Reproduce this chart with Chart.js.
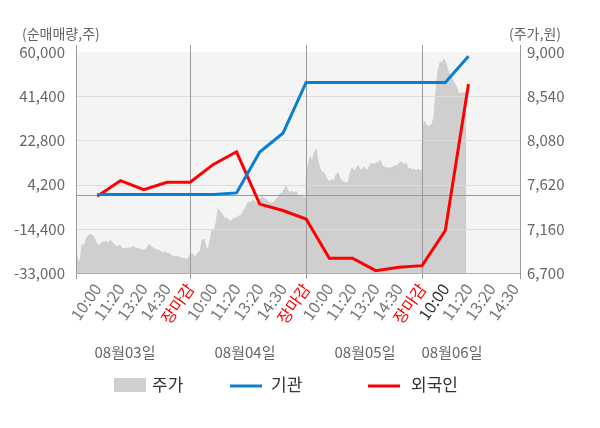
<!DOCTYPE html>
<html><head><meta charset="utf-8">
<script src="https://cdn.jsdelivr.net/npm/chart.js@4.4.0/dist/chart.umd.min.js"></script>
<style>html,body{margin:0;padding:0;background:#fff;}#wrap{width:600px;height:428px;position:relative;}</style>
</head><body><div id="wrap"><canvas id="c"></canvas></div>
<script>
// ---- data ----
const timeLabels = ['10:00','11:20','13:20','14:30','장마감','10:00','11:20','13:20','14:30','장마감','10:00','11:20','13:20','14:30','장마감','10:00','11:20','13:20','14:30'];
const dateLabels = ['08월03일','08월04일','08월05일','08월06일'];
const seriesNames = ['주가','기관','외국인'];
const institution = [0,0,0,0,0,0,700,17900,25800,47200,47200,47200,47200,47200,47200,47200,58200];
const foreign = [-700,5900,2100,5200,5200,12700,18000,-4000,-6700,-10300,-26800,-26800,-32000,-30600,-29900,-15100,46500];
const priceDay1 = [7010,6923,6819,6836,6999,6972,7055,7090,7100,7090,7073,7020,6987,6999,7020,7020,7030,7010,7040,7020,6999,6972,6980,6990,6955,6955,6955,6962,6955,6972,6972,6955,6955,6945,6938,6938,6945,6990,6990,6965,6955,6945,6938,6931,6910,6920,6910,6903,6896,6875,6868,6875,6868,6861,6850,6847,6847,6847];
const priceDay2 = [6889,6899,6871,6878,6913,6923,7045,7052,6968,6940,7045,7150,7143,7226,7369,7341,7317,7272,7272,7261,7237,7254,7272,7272,7289,7296,7317,7359,7394,7435,7435,7446,7456,7411,7463,7470,7498,7470,7463,7446,7428,7428,7435,7470,7491,7526,7533,7568,7603,7550,7540,7550,7533,7550,7505,7491,7498,7481,7491];
const priceDay3 = [7707,7811,7916,7853,7951,7986,7853,7784,7749,7742,7700,7655,7655,7672,7655,7724,7742,7679,7655,7644,7638,7638,7742,7794,7759,7784,7819,7770,7777,7804,7770,7784,7829,7840,7829,7846,7846,7874,7819,7804,7794,7794,7794,7794,7819,7811,7832,7846,7853,7825,7840,7784,7794,7770,7784,7759,7784,7770,7759];
const priceDay4 = [8021,8282,8247,8223,8237,8247,8334,8613,8805,8892,8892,8927,8875,8805,8760,8718,8683,8641,8586,8561,8579,8572,8586];
const leftTicks = [60000,41400,22800,4200,-14400,-33000];
const rightTicks = [9000,8540,8080,7620,7160,6700];

// ---- build points ----
const priceDays = [priceDay1, priceDay2, priceDay3, priceDay4];
const SLOTS_PER_DAY = 5, SAMPLES_STEP = 5/58;
const pricePts = [];
priceDays.forEach((arr, d) => arr.forEach((v, j) => pricePts.push({x: d*SLOTS_PER_DAY + j*SAMPLES_STEP, y: v})));
const instPts = institution.map((v,i)=>({x:i+1,y:v}));
const forPts = foreign.map((v,i)=>({x:i+1,y:v}));

const FONT = "'Noto Sans CJK KR','Noto Sans',sans-serif";
Chart.defaults.font.family = FONT;
const fmt = v => v.toLocaleString('en-US');
const currentTick = 15;

const deco = {
  id: 'deco',
  beforeDatasetsDraw(chart){
    const {ctx, chartArea:a} = chart;
    ctx.save(); ctx.fillStyle = '#f4f4f4';
    ctx.fillRect(a.left, a.top, a.right-a.left, a.bottom-a.top);
    ctx.restore();
  },
  afterDatasetDraw(chart, args){
    if (args.index !== 0) return;
    const {ctx, chartArea:a, scales} = chart;
    const y = scales.y, x = scales.x;
    ctx.save();
    ctx.lineWidth = 1;
    ctx.strokeStyle = '#dcdcdc';
    leftTicks.slice(1, -1).forEach(v => {
      const py = Math.round(y.getPixelForValue(v)) + 0.5;
      ctx.beginPath(); ctx.moveTo(a.left, py); ctx.lineTo(a.right, py); ctx.stroke();
    });
    ctx.strokeStyle = '#9a9a9a';
    const zy = Math.round(y.getPixelForValue(0)) + 0.5;
    ctx.beginPath(); ctx.moveTo(a.left, zy); ctx.lineTo(a.right, zy); ctx.stroke();
    const vx = [a.left, x.getPixelForValue(5), x.getPixelForValue(10), x.getPixelForValue(15), a.right];
    vx.forEach(px => {
      const p = Math.round(px) + 0.5;
      ctx.beginPath(); ctx.moveTo(p, a.top - 7); ctx.lineTo(p, a.bottom + 6); ctx.stroke();
    });
    ctx.strokeStyle = '#b0b0b0';
    const by = Math.round(a.bottom) + 0.5;
    ctx.beginPath(); ctx.moveTo(a.left, by); ctx.lineTo(a.right, by); ctx.stroke();
    ctx.restore();
  },
  afterDraw(chart){
    const {ctx} = chart;
    ctx.save();
    ctx.fillStyle = '#666';
    ctx.font = `14px ${FONT}`;
    ctx.textBaseline = 'middle';
    ctx.textAlign = 'left';
    ctx.fillText('(순매매량,주)', 22, 34);
    ctx.fillText('(주가,원)', 509, 34);
    ctx.font = `15px ${FONT}`;
    ctx.textAlign = 'center';
    const dx = [125, 245, 365, 452];
    dateLabels.forEach((t,i) => ctx.fillText(t, dx[i], 352));
    // legend
    ctx.font = `17px ${FONT}`;
    ctx.textAlign = 'left';
    ctx.fillStyle = '#cfcfcf';
    ctx.fillRect(114, 378, 32, 14);
    ctx.fillStyle = '#333';
    ctx.fillText(seriesNames[0], 152, 385);
    ctx.lineWidth = 3;
    ctx.strokeStyle = '#0a7fcf';
    ctx.beginPath(); ctx.moveTo(230, 386); ctx.lineTo(262, 386); ctx.stroke();
    ctx.fillText(seriesNames[1], 271, 385);
    ctx.strokeStyle = '#ff0000';
    ctx.beginPath(); ctx.moveTo(368, 386); ctx.lineTo(400, 386); ctx.stroke();
    ctx.fillText(seriesNames[2], 411, 385);
    ctx.restore();
  }
};

new Chart(document.getElementById('c'), {
  type: 'line',
  data: {
    datasets: [
      {label: seriesNames[0], data: pricePts, yAxisID: 'y2', fill: 'start', backgroundColor: '#cfcfcf', borderColor: '#cfcfcf', borderWidth: 1, pointRadius: 0, tension: 0, order: 3},
      {label: seriesNames[1], data: instPts, yAxisID: 'y', borderColor: '#0a7fcf', borderWidth: 3, pointRadius: 0, tension: 0, fill: false, order: 1},
      {label: seriesNames[2], data: forPts, yAxisID: 'y', borderColor: '#ff0000', borderWidth: 3, pointRadius: 0, tension: 0, fill: false, order: 2}
    ]
  },
  options: {
    responsive: true, maintainAspectRatio: false, animation: false,
    layout: {padding: {top: 52, left: 0, right: 0, bottom: 0}},
    plugins: {legend: {display: false}, tooltip: {enabled: false}},
    scales: {
      x: {
        type: 'linear', min: 0.08, max: 19.22,
        grid: {display: false, drawTicks: false}, border: {display: false},
        afterBuildTicks: s => { s.ticks = timeLabels.map((_, i) => ({value: i+1})); },
        afterFit: s => { s.height = 155; },
        ticks: {
          autoSkip: false, minRotation: 55, maxRotation: 55, padding: 7,
          font: {size: 16},
          color: c => timeLabels[c.index] === '장마감' ? '#ff0000' : (c.index === currentTick ? '#333' : '#777'),
          callback: (v, i) => timeLabels[i]
        }
      },
      y: {
        position: 'left', min: -33000, max: 60000,
        grid: {display: false, drawTicks: false}, border: {display: false},
        afterBuildTicks: s => { s.ticks = leftTicks.map(v => ({value: v})); },
        afterFit: s => { s.width = 76; },
        ticks: {padding: 11, color: '#666', font: {size: 15}, callback: v => fmt(v)}
      },
      y2: {
        position: 'right', min: 6700, max: 9000,
        grid: {display: false, drawTicks: false}, border: {display: false},
        afterBuildTicks: s => { s.ticks = rightTicks.map(v => ({value: v})); },
        afterFit: s => { s.width = 80; },
        ticks: {padding: 7, color: '#666', font: {size: 15}, callback: v => fmt(v)}
      }
    }
  },
  plugins: [deco]
});
</script></body></html>
